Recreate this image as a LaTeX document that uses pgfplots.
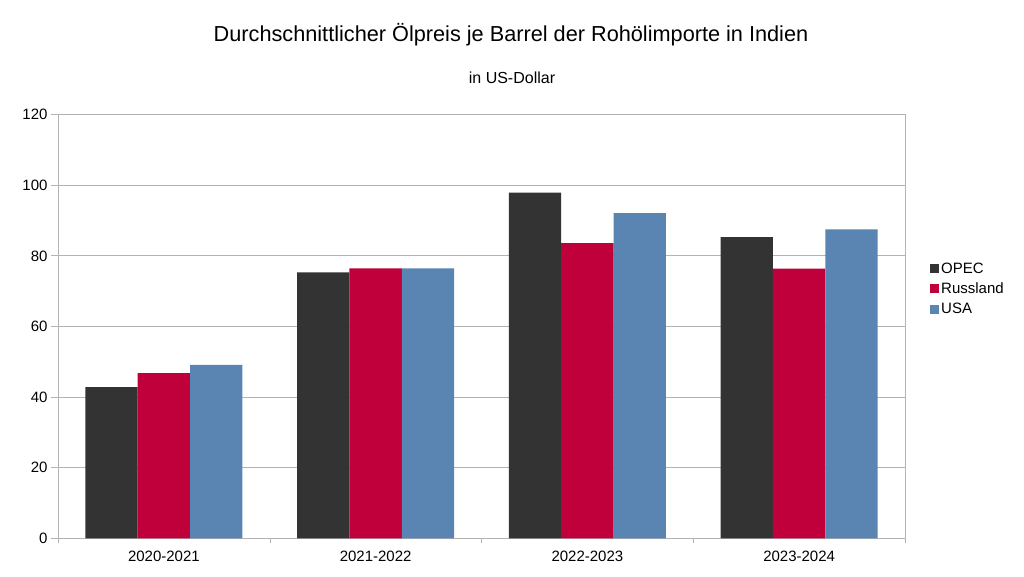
\documentclass[border=0pt]{standalone}
\usepackage{fontspec}
\setmainfont{Liberation Sans}
\usepackage{pgfplots}
\pgfplotsset{compat=1.18}

\definecolor{opec}{HTML}{333333}
\definecolor{russ}{HTML}{C0003B}
\definecolor{usa}{HTML}{5A84B1}
\definecolor{gridc}{HTML}{B3B3B3}

\begin{document}
\begin{tikzpicture}
\path[use as bounding box] (0pt,0pt) rectangle (1024pt,576pt);
\node[font=\fontsize{21.7}{26}\selectfont] at (511pt,541pt) {Durchschnittlicher Ölpreis je Barrel der Rohölimporte in Indien};
\node[font=\fontsize{16}{19}\selectfont] at (512pt,498pt) {in US-Dollar};
\begin{axis}[
    at={(58pt,37.7pt)}, anchor=south west,
    width=847pt, height=423.6pt, scale only axis,
    ybar=0pt, bar width=52.3pt,
    xmin=-0.5, xmax=3.5,
    ymin=0, ymax=120,
    xtick={0,1,2,3},
    xticklabels={2020-2021,2021-2022,2022-2023,2023-2024},
    minor xtick={-0.5,0.5,1.5,2.5,3.5},
    xtick pos=bottom, ytick pos=left,
    major x tick style={draw=none},
    minor x tick style={gridc},
    ytick={0,20,...,120},
    ymajorgrids=true,
    grid style={gridc, line width=0.8pt},
    axis line style={gridc, line width=0.8pt},
    y tick style={gridc, line width=0.8pt},
    tick align=outside,
    major tick length=7pt,
    minor tick length=5pt,
    tick label style={font=\fontsize{15}{18}\selectfont, text=black},
    /pgf/number format/assume math mode=true,
    xticklabel style={yshift=-2pt},
    legend style={at={(1.026,0.5886)}, anchor=west, draw=none, fill=none,
        font=\fontsize{15}{18}\selectfont, row sep=4pt},
    legend cell align=left,
    legend image code/.code={\fill[#1] (0pt,-4.5pt) rectangle (9pt,4.5pt);},
]
\addplot[fill=opec, draw=none] coordinates {(0,42.8) (1,75.3) (2,97.9) (3,85.3)};
\addplot[fill=russ, draw=none] coordinates {(0,46.8) (1,76.5) (2,83.6) (3,76.4)};
\addplot[fill=usa, draw=none] coordinates {(0,49.1) (1,76.5) (2,92.1) (3,87.5)};
\legend{OPEC,Russland,USA}
\end{axis}
\end{tikzpicture}
\end{document}
